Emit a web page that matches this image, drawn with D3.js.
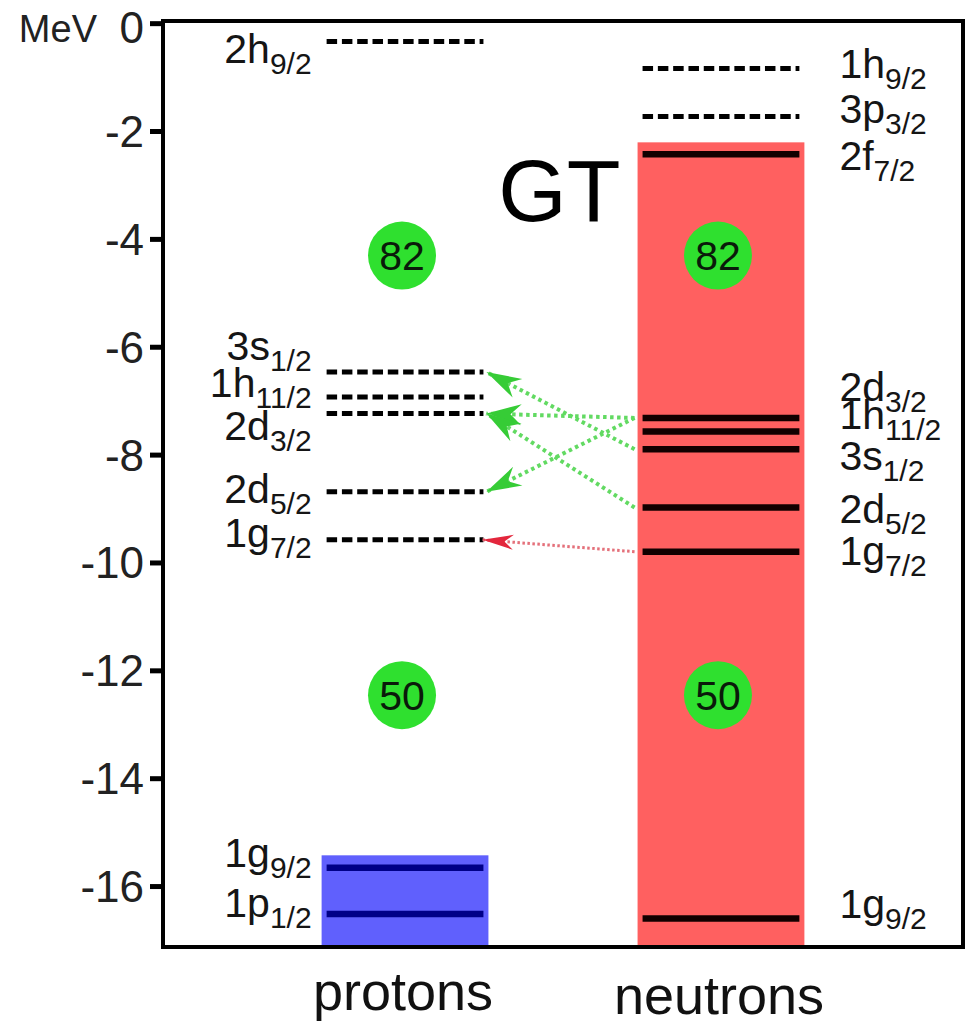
<!DOCTYPE html>
<html>
<head>
<meta charset="utf-8">
<script src="https://cdn.jsdelivr.net/npm/d3@7"></script>
<style>
  html, body { margin: 0; padding: 0; background: #fff; }
  svg { display: block; font-family: "Liberation Sans", Arial, Helvetica, sans-serif; }
</style>
</head>
<body>
<svg id="chart" width="967" height="1026"></svg>
<script>
// ---- Energy axis (MeV) ----
const yTicks = [0, -2, -4, -6, -8, -10, -12, -14, -16];
const energyTop = 0.04;
const energyBottom = -17.13;

// ---- Columns ----
const columns = ["protons", "neutrons"];

// ---- Proton single-particle levels ----
const protonOrbital  = ["2h", "3s", "1h", "2d", "2d", "1g", "1g", "1p"];
const protonJ        = ["9/2", "1/2", "11/2", "3/2", "5/2", "7/2", "9/2", "1/2"];
const protonEnergy   = [-0.34, -6.47, -6.93, -7.24, -8.69, -9.58, -15.66, -16.52];
const protonOccupied = [false, false, false, false, false, false, true, true];
const protonLabelE   = [-0.73, -6.25, -6.93, -7.73, -8.90, -9.71, -15.65, -16.58];
const protonSeaTop   = -15.43;

// ---- Neutron single-particle levels ----
const neutronOrbital  = ["1h", "3p", "2f", "2d", "1h", "3s", "2d", "1g", "1g"];
const neutronJ        = ["9/2", "3/2", "7/2", "3/2", "11/2", "1/2", "5/2", "7/2", "9/2"];
const neutronEnergy   = [-0.84, -1.73, -2.43, -7.32, -7.57, -7.90, -8.98, -9.80, -16.60];
const neutronOccupied = [false, false, true, true, true, true, true, true, true];
const neutronLabelE   = [-1.02, -1.86, -2.73, -7.00, -7.52, -8.29, -9.27, -10.05, -16.60];
const neutronSeaTop   = -2.21;

// ---- Shell closures ----
const magicNumbers = [82, 50];
const magicEnergy  = [-4.31, -12.46];

// ---- Gamow-Teller transitions (neutron orbit -> proton orbit) ----
const transFrom  = ["3s1/2", "2d3/2", "2d3/2", "2d5/2", "1g7/2"];
const transTo    = ["3s1/2", "2d3/2", "2d5/2", "2d3/2", "1g7/2"];
const transGroup = ["green", "green", "green", "green", "red"];

// ---- Layout ----
const W = 967, H = 1026;
const margin = { top: 21, right: 4, bottom: 79, left: 163 };
const svg = d3.select("#chart");

const x = d3.scaleBand()
  .domain(columns)
  .range([margin.left, W - margin.right])
  .paddingInner(0.472)
  .paddingOuter(0.502);
const bw = x.bandwidth();
const inset = 5;

const y = d3.scaleLinear()
  .domain([energyTop, energyBottom])
  .range([margin.top, H - margin.bottom]);

function buildLevels(col, orb, j, e, occ, le) {
  return orb.map((o, i) => ({ col, orb: o, j: j[i], key: o + j[i], e: e[i], occ: occ[i], le: le[i] }));
}
const protonLevels = buildLevels("protons", protonOrbital, protonJ, protonEnergy, protonOccupied, protonLabelE);
const neutronLevels = buildLevels("neutrons", neutronOrbital, neutronJ, neutronEnergy, neutronOccupied, neutronLabelE);

// ---- Arrowheads (swallow-tail) ----
const arrowColor = { green: "#36cc36", red: "#e3263c" };
const lineColor  = { green: "#62da62", red: "#e4707a" };
const headPath = {
  green: "M0,0 L-35,-10.5 L-24,0 L-35,10.5 Z",
  red:   "M0,0 L-31,-7.5 L-22,0 L-31,7.5 Z"
};
const defs = svg.append("defs");
Object.keys(arrowColor).forEach(k => {
  defs.append("marker")
    .attr("id", "head-" + k)
    .attr("viewBox", "-37 -13 39 26")
    .attr("refX", 0).attr("refY", 0)
    .attr("markerWidth", 39).attr("markerHeight", 26)
    .attr("markerUnits", "userSpaceOnUse")
    .attr("orient", "auto")
    .append("path")
    .attr("d", headPath[k])
    .attr("fill", arrowColor[k]);
});

// ---- Fermi seas ----
const seas = [
  { col: "protons", top: protonSeaTop, fill: "#6060fd" },
  { col: "neutrons", top: neutronSeaTop, fill: "#ff6060" }
];
svg.append("g").selectAll("rect").data(seas).join("rect")
  .attr("x", d => x(d.col))
  .attr("width", bw)
  .attr("y", d => y(d.top))
  .attr("height", d => y(energyBottom) - y(d.top))
  .attr("fill", d => d.fill);

// ---- Frame ----
svg.append("rect")
  .attr("x", margin.left).attr("y", y(energyTop))
  .attr("width", W - margin.right - margin.left)
  .attr("height", y(energyBottom) - y(energyTop))
  .attr("fill", "none").attr("stroke", "#000").attr("stroke-width", 4);

// ---- Level lines ----
svg.append("g").selectAll("line").data(protonLevels.concat(neutronLevels)).join("line")
  .attr("x1", d => x(d.col) + inset)
  .attr("x2", d => x(d.col) + bw - inset)
  .attr("y1", d => y(d.e))
  .attr("y2", d => y(d.e))
  .attr("stroke", d => d.occ ? (d.col === "protons" ? "#000088" : "#120000") : "#000")
  .attr("stroke-width", d => d.occ ? 6.5 : 5)
  .attr("stroke-dasharray", d => d.occ ? null : "10.5,4.8");

// ---- Magic-number circles ----
const magic = [];
columns.forEach(c => magicNumbers.forEach((m, i) => magic.push({ col: c, n: m, e: magicEnergy[i] })));
const mg = svg.append("g").selectAll("g").data(magic).join("g")
  .attr("transform", d => `translate(${x(d.col) + bw / 2 - 3},${y(d.e)})`);
mg.append("circle").attr("r", 34).attr("fill", "#2fe02f");
mg.append("text")
  .attr("text-anchor", "middle").attr("dy", "0.36em")
  .attr("font-size", 41).attr("fill", "#0a1a0a")
  .text(d => d.n);

// ---- Transition arrows ----
const pByKey = new Map(protonLevels.map(d => [d.key, d]));
const nByKey = new Map(neutronLevels.map(d => [d.key, d]));
const trans = transFrom.map((f, i) => ({ from: nByKey.get(f), to: pByKey.get(transTo[i]), g: transGroup[i] }));
svg.append("g").selectAll("line").data(trans).join("line")
  .attr("x1", x("neutrons") - 3)
  .attr("y1", d => y(d.from.e))
  .attr("x2", d => x("protons") + bw - inset + (d.g === "green" ? 3 : -1))
  .attr("y2", d => y(d.to.e))
  .attr("stroke", d => lineColor[d.g])
  .attr("stroke-width", d => d.g === "green" ? 4 : 3)
  .attr("stroke-dasharray", d => d.g === "green" ? "3.5,3.5" : "2.5,2.5")
  .attr("marker-end", d => `url(#head-${d.g})`);

// ---- Orbital labels ----
function orbitalLabels(data, xpos, anchor) {
  const t = svg.append("g").selectAll("text").data(data).join("text")
    .attr("x", xpos)
    .attr("y", d => y(d.le))
    .attr("text-anchor", anchor)
    .attr("font-size", 41)
    .attr("fill", "#151515");
  t.append("tspan").text(d => d.orb);
  t.append("tspan").attr("font-size", 30).attr("dy", 11).text(d => d.j);
}
orbitalLabels(protonLevels, x("protons") - 10, "end");
orbitalLabels(neutronLevels, x("neutrons") + bw + 35, "start");

// ---- GT annotation ----
svg.append("text")
  .attr("x", x("neutrons") - 17)
  .attr("y", y(neutronSeaTop) + 79)
  .attr("text-anchor", "end")
  .attr("font-size", 88)
  .attr("fill", "#000")
  .text("GT");

// ---- Y axis ----
const axis = d3.axisLeft(y)
  .tickValues(yTicks)
  .tickSize(13)
  .tickPadding(6)
  .tickFormat(d => String(d));
const gAxis = svg.append("g")
  .attr("transform", `translate(${margin.left},0)`)
  .call(axis)
  .attr("font-family", null)
  .attr("font-size", 44);
gAxis.select(".domain").remove();
gAxis.selectAll(".tick line").attr("stroke", "#000").attr("stroke-width", 5);
gAxis.selectAll(".tick text")
  .attr("fill", "#222")
  .attr("dy", d => d === 0 ? "0.43em" : "0.35em");

svg.append("text")
  .attr("x", 97)
  .attr("y", y(0) + 19)
  .attr("text-anchor", "end")
  .attr("font-size", 38)
  .attr("fill", "#222")
  .text("MeV");

// ---- Column titles ----
svg.append("g").selectAll("text").data(columns).join("text")
  .attr("x", d => x(d) + bw / 2 - 2)
  .attr("y", d => d === "protons" ? 1010 : 1014)
  .attr("text-anchor", "middle")
  .attr("font-size", 54)
  .attr("fill", "#111")
  .text(d => d);
</script>
</body>
</html>
